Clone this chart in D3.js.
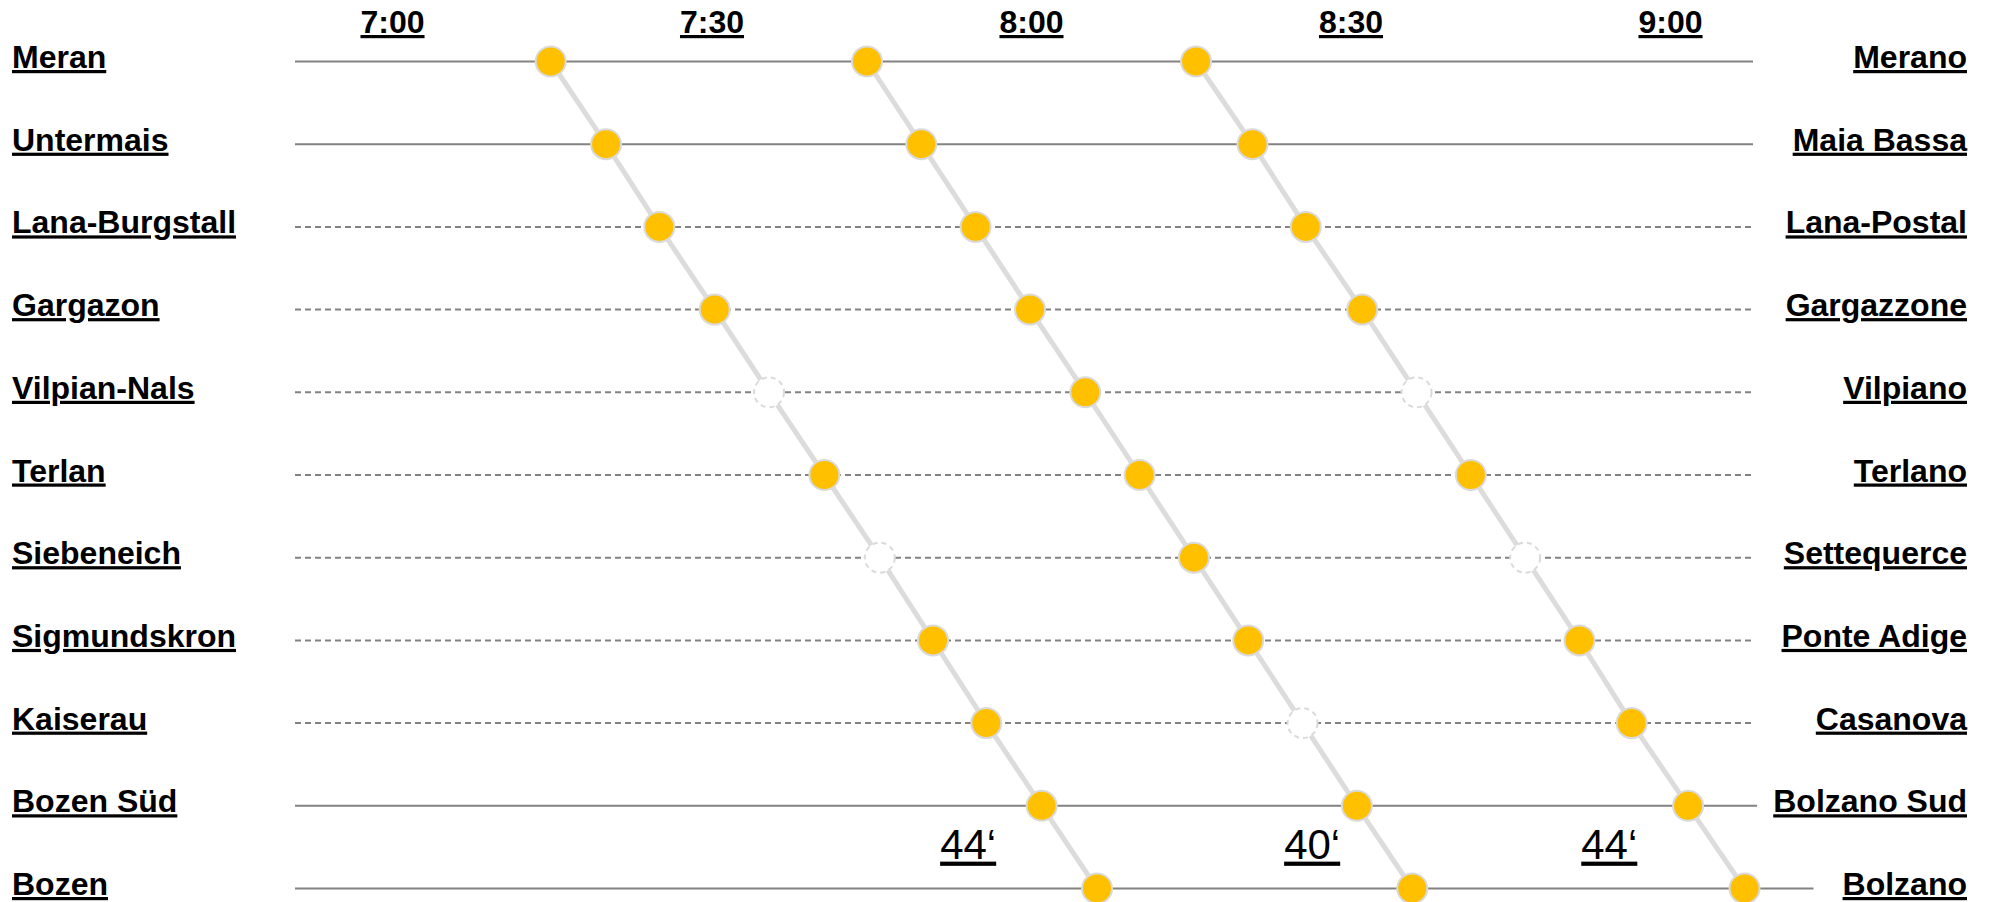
<!DOCTYPE html>
<html>
<head>
<meta charset="utf-8">
<script src="https://cdn.jsdelivr.net/npm/d3@7"></script>
<style>
  html, body { margin: 0; padding: 0; background: #fff; }
  svg { display: block; }
  text { font-family: "Liberation Sans", Arial, sans-serif; }
</style>
</head>
<body>
<svg id="chart" width="2004" height="902"></svg>
<script>
// ---- data ----
const stationsDE = ["Meran", "Untermais", "Lana-Burgstall", "Gargazon", "Vilpian-Nals", "Terlan",
  "Siebeneich", "Sigmundskron", "Kaiserau", "Bozen Süd", "Bozen"];
const stationsIT = ["Merano", "Maia Bassa", "Lana-Postal", "Gargazzone", "Vilpiano", "Terlano",
  "Settequerce", "Ponte Adige", "Casanova", "Bolzano Sud", "Bolzano"];
const majorStations = ["Meran", "Untermais", "Bozen Süd", "Bozen"];

const tickMinutes = [0, 30, 60, 90, 120];           // minutes after 7:00
const tickLabels = ["7:00", "7:30", "8:00", "8:30", "9:00"];

// minutes after 7:00 at each station, per train
const train1 = [14.9, 20.1, 25.1, 30.3, 35.4, 40.6, 45.8, 50.8, 55.8, 61.0, 66.2];
const train2 = [44.6, 49.7, 54.8, 59.9, 65.1, 70.2, 75.3, 80.4, 85.5, 90.6, 95.8];
const train3 = [75.5, 80.8, 85.8, 91.1, 96.2, 101.3, 106.4, 111.5, 116.4, 121.7, 127.0];
// does the train stop? (false = passes through)
const stops1 = [true, true, true, true, false, true, false, true, true, true, true];
const stops2 = [true, true, true, true, true, true, true, true, false, true, true];
const stops3 = [true, true, true, true, false, true, false, true, true, true, true];

const durationLabels = ["44‘", "40‘", "44‘"];
const durationAt = [54.1, 86.4, 114.3];             // minutes after 7:00

// ---- chart ----
const svg = d3.select("#chart");
const x = d3.scaleLinear().domain([0, 120]).range([392, 1670]);
const y = d3.scalePoint().domain(stationsDE).range([61.5, 888.5]);

const trains = [
  { times: train1, stops: stops1 },
  { times: train2, stops: stops2 },
  { times: train3, stops: stops3 }
];

// gridlines per station
const gridStart = 295, gridEnd = 1753;
const lastTimeAt = stationsDE.map((s, i) => d3.max(trains, t => t.times[i]));
svg.append("g").selectAll("line")
  .data(stationsDE)
  .join("line")
  .attr("x1", gridStart)
  .attr("x2", (d, i) => Math.max(gridEnd, x(lastTimeAt[i]) + 69))
  .attr("y1", d => y(d))
  .attr("y2", d => y(d))
  .attr("stroke", "#828282")
  .attr("stroke-width", 2)
  .attr("stroke-dasharray", d => majorStations.includes(d) ? null : "6,4");

// time axis at the top
const axis = d3.axisTop(x)
  .tickValues(tickMinutes)
  .tickFormat((d, i) => tickLabels[i])
  .tickSize(0)
  .tickPadding(0);
const ax = svg.append("g").attr("transform", "translate(0,33)").call(axis);
ax.select(".domain").remove();
ax.selectAll("text")
  .attr("y", 0)
  .attr("dy", null)
  .attr("fill", "#000")
  .style("font-size", "32px")
  .style("font-weight", "bold")
  .style("text-decoration", "underline")
  .style("font-family", "'Liberation Sans', Arial, sans-serif");

// station labels
svg.append("g").selectAll("text")
  .data(stationsDE)
  .join("text")
  .attr("x", 12)
  .attr("y", d => y(d) + 6.5)
  .attr("font-size", 32)
  .attr("font-weight", "bold")
  .attr("text-decoration", "underline")
  .attr("fill", "#000")
  .text(d => d);

svg.append("g").selectAll("text")
  .data(stationsIT)
  .join("text")
  .attr("x", 1967)
  .attr("y", (d, i) => y(stationsDE[i]) + 6.5)
  .attr("text-anchor", "end")
  .attr("font-size", 32)
  .attr("font-weight", "bold")
  .attr("text-decoration", "underline")
  .attr("fill", "#000")
  .text(d => d);

// train paths
const line = d3.line().x(d => x(d.t)).y(d => y(d.s));
const tg = svg.append("g");
trains.forEach(tr => {
  const pts = stationsDE.map((s, i) => ({ s, t: tr.times[i], stop: tr.stops[i] }));
  tg.append("path")
    .datum(pts)
    .attr("d", line)
    .attr("fill", "none")
    .attr("stroke", "#dcdcdc")
    .attr("stroke-width", 5);
  tg.append("g").selectAll("circle")
    .data(pts)
    .join("circle")
    .attr("cx", d => x(d.t))
    .attr("cy", d => y(d.s))
    .attr("r", 15)
    .attr("fill", d => d.stop ? "#FFC000" : "#ffffff")
    .attr("stroke", "#dadada")
    .attr("stroke-width", 2)
    .attr("stroke-dasharray", d => d.stop ? null : "5,4");
});

// journey durations
const yDur = (y("Bozen Süd") + y("Bozen")) / 2 + 11.5;
svg.append("g").selectAll("text")
  .data(durationLabels)
  .join("text")
  .attr("x", (d, i) => x(durationAt[i]))
  .attr("y", yDur)
  .attr("text-anchor", "middle")
  .attr("font-size", 42)
  .attr("text-decoration", "underline")
  .attr("fill", "#000")
  .text(d => d);
</script>
</body>
</html>
